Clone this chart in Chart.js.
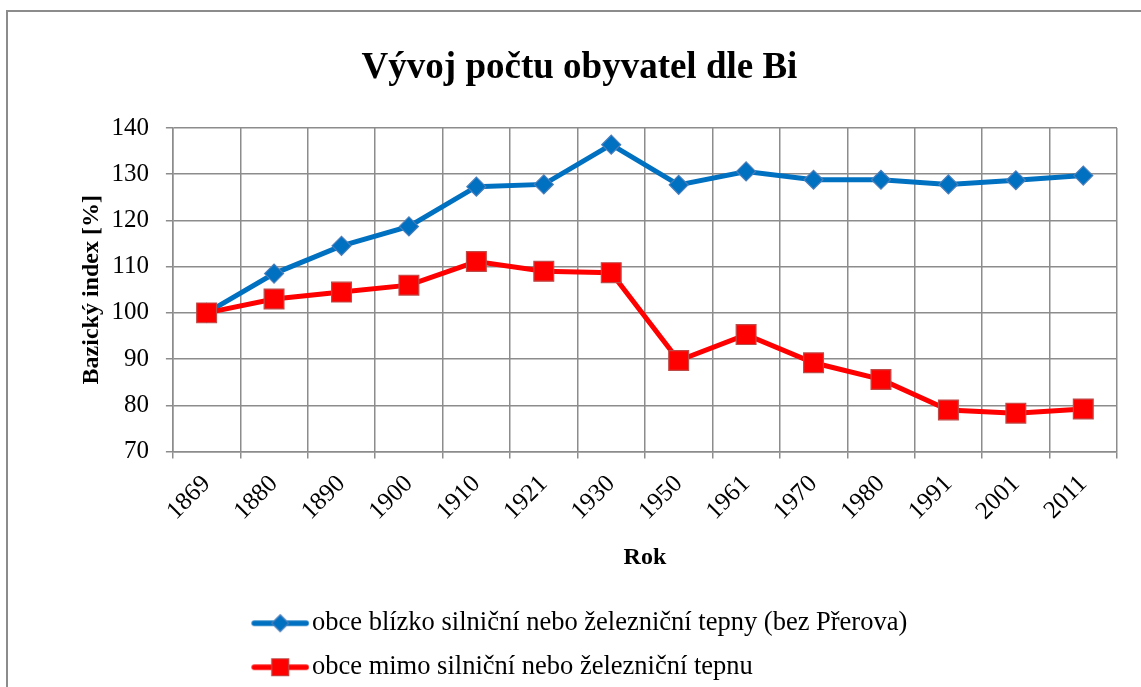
<!DOCTYPE html>
<html>
<head>
<meta charset="utf-8">
<script src="https://cdn.jsdelivr.net/npm/chart.js@4.4.1/dist/chart.umd.min.js"></script>
<style>
  html, body { margin: 0; padding: 0; background: #fff; overflow: hidden; }
  #frame { position: absolute; left: 6px; top: 10px; width: 1200px; height: 800px; border: 2px solid #8c8c8c; box-sizing: border-box; }
  #wrap { position: absolute; left: 0; top: 0; width: 1141px; height: 700px; }
</style>
</head>
<body>
<div id="frame"></div>
<div id="wrap"><canvas id="c"></canvas></div>
<script>
const chartTitle = 'Vývoj počtu obyvatel dle Bi';
const yTitle = 'Bazický index [%]';
const xTitle = 'Rok';
const years = ['1869','1880','1890','1900','1910','1921','1930','1950','1961','1970','1980','1991','2001','2011'];
const seriesNames = ['obce blízko silniční nebo železniční tepny (bez Přerova)', 'obce mimo silniční nebo železniční tepnu'];
const blizko = [100, 108.5, 114.5, 118.7, 127.3, 127.8, 136.4, 127.7, 130.6, 128.8, 128.8, 127.8, 128.7, 129.7];
const mimo = [100, 103.0, 104.5, 106.0, 111.1, 109.0, 108.7, 89.7, 95.3, 89.2, 85.6, 79.0, 78.3, 79.2];
const yMin = 70, yMax = 140, yStep = 10;

const FONT = 'Liberation Serif';
const GRID = '#8c8c8c';
const BLUE = '#0070C0', BLUE_EDGE = '#4a7ebb';
const RED = '#FF0000', RED_EDGE = '#be4b48';

function legendMarker(kind) {
  const c = document.createElement('canvas');
  c.width = 68; c.height = 26;
  const g = c.getContext('2d');
  g.lineCap = 'round';
  g.lineWidth = 5.5;
  g.strokeStyle = kind === 'diamond' ? BLUE : RED;
  g.beginPath(); g.moveTo(13, 13); g.lineTo(65, 13); g.stroke();
  g.lineWidth = 1.2;
  if (kind === 'diamond') {
    g.fillStyle = BLUE; g.strokeStyle = BLUE_EDGE;
    g.beginPath(); g.moveTo(39, 4.5); g.lineTo(47.5, 13); g.lineTo(39, 21.5); g.lineTo(30.5, 13); g.closePath();
    g.fill(); g.stroke();
  } else {
    g.fillStyle = RED; g.strokeStyle = RED_EDGE;
    g.beginPath(); g.rect(30.5, 4.5, 17, 17); g.fill(); g.stroke();
  }
  return c;
}
const markers = [legendMarker('diamond'), legendMarker('square')];

const equalLegendRows = {
  id: 'equalLegendRows',
  beforeDraw(chart) {
    const lg = chart.legend;
    if (lg && lg.lineWidths && lg.lineWidths.length) {
      const m = Math.max(...lg.lineWidths);
      lg.lineWidths = lg.lineWidths.map(() => m);
    }
  }
};

new Chart(document.getElementById('c'), {
  type: 'line',
  data: {
    labels: years,
    datasets: [
      {
        label: seriesNames[0],
        data: blizko,
        order: 1,
        borderColor: BLUE,
        borderWidth: 5,
        tension: 0,
        pointStyle: 'rectRot',
        pointRadius: 9.5,
        pointBackgroundColor: BLUE,
        pointBorderColor: BLUE_EDGE,
        pointBorderWidth: 1.2
      },
      {
        label: seriesNames[1],
        data: mimo,
        order: 0,
        borderColor: RED,
        borderWidth: 5,
        tension: 0,
        pointStyle: 'rect',
        pointRadius: 14,
        pointBackgroundColor: RED,
        pointBorderColor: RED_EDGE,
        pointBorderWidth: 1.2
      }
    ]
  },
  options: {
    responsive: true,
    maintainAspectRatio: false,
    animation: false,
    layout: { padding: { left: 42, right: 24, top: 20, bottom: 9.5 } },
    plugins: {
      tooltip: { enabled: false },
      title: {
        display: true,
        text: chartTitle,
        color: '#000',
        font: { family: FONT, size: 37, weight: 'bold' },
        padding: { top: 26.3, bottom: 37.3 }
      },
      legend: {
        display: true,
        position: 'bottom',
        align: 'center',
        labels: {
          color: '#000',
          font: { family: FONT, size: 26.5 },
          padding: 17.5,
          usePointStyle: true,
          pointStyleWidth: 47,
          boxHeight: 26.5,
          generateLabels(chart) {
            return chart.data.datasets.map((ds, i) => ({
              text: ds.label,
              pointStyle: markers[i],
              fillStyle: ds.borderColor,
              strokeStyle: ds.borderColor,
              lineWidth: 0,
              hidden: false,
              datasetIndex: i,
              fontColor: '#000'
            }));
          }
        }
      }
    },
    scales: {
      x: {
        offset: true,
        grid: { display: true, offset: true, color: GRID, lineWidth: 1.5, drawTicks: true, tickLength: 7, tickColor: GRID },
        border: { display: true, color: GRID, width: 1.5 },
        ticks: {
          color: '#000',
          font: { family: FONT, size: 25 },
          minRotation: 45,
          maxRotation: 45,
          autoSkip: false,
          padding: 11
        },
        title: {
          display: true,
          text: xTitle,
          color: '#000',
          font: { family: FONT, size: 24, weight: 'bold' },
          padding: { top: 6, bottom: 20.6 }
        }
      },
      y: {
        min: yMin,
        max: yMax,
        grid: { color: GRID, lineWidth: 1.5, drawTicks: true, tickLength: 7, tickColor: GRID },
        border: { display: true, color: GRID, width: 1.5 },
        ticks: {
          stepSize: yStep,
          color: '#000',
          font: { family: FONT, size: 25 },
          padding: 17
        },
        title: {
          display: true,
          text: yTitle,
          color: '#000',
          font: { family: FONT, size: 24, weight: 'bold' },
          padding: { top: 35.6, bottom: -12 }
        }
      }
    }
  },
  plugins: [equalLegendRows]
});
</script>
</body>
</html>
